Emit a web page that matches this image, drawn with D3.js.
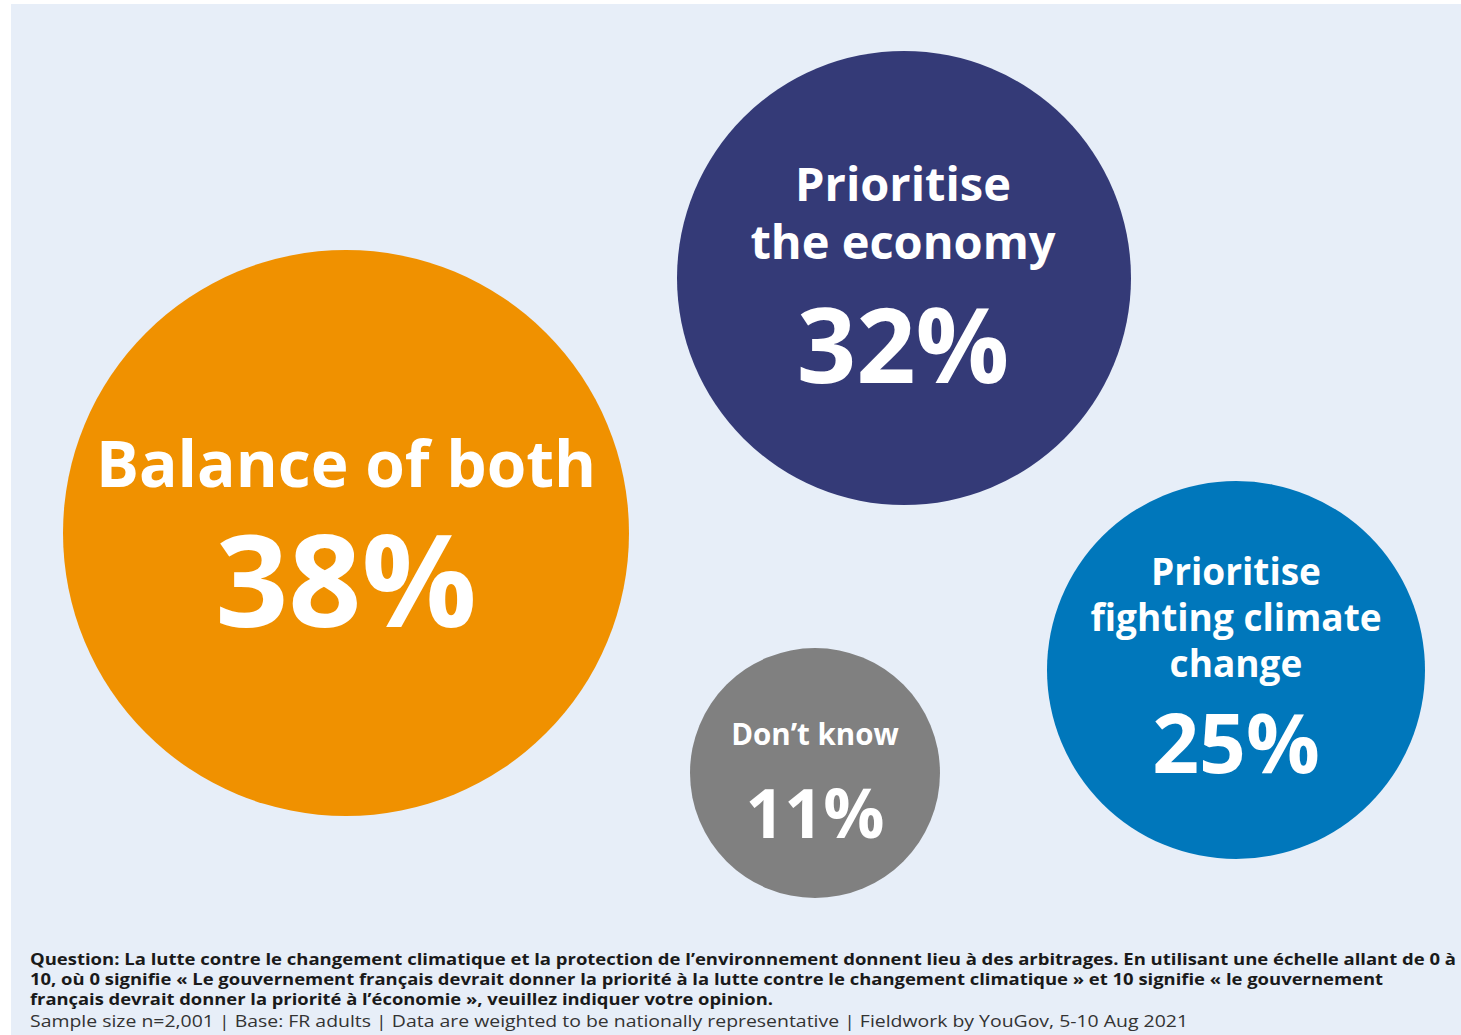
<!DOCTYPE html>
<html lang="en">
<head>
  <meta charset="UTF-8">
  <title>bubbles</title>
  <script src="https://cdn.jsdelivr.net/npm/d3@7"></script>
  <style type="text/css">
    html, body { margin: 0; background: #fff; }
    svg { display: block; }
    text { font-family: "Open Sans", Lato, sans-serif; font-variant-ligatures: none; }
  </style>
</head>
<body>
  <script>
    // data
    var categories = ['Balance of both', 'Prioritise the economy', 'Prioritise fighting climate change', "Don’t know"];
    var labelLines = [['Balance of both'], ['Prioritise', 'the economy'], ['Prioritise', 'fighting climate', 'change'], ['Don’t know']];
    var values = [38, 32, 25, 11];
    var footQuestion = [
      'Question: La lutte contre le changement climatique et la protection de l’environnement donnent lieu à des arbitrages. En utilisant une échelle allant de 0 à',
      '10, où 0 signifie « Le gouvernement français devrait donner la priorité à la lutte contre le changement climatique » et 10 signifie « le gouvernement',
      'français devrait donner la priorité à l’économie », veuillez indiquer votre opinion.'
    ];
    var footSource = 'Sample size n=2,001 | Base: FR adults | Data are weighted to be nationally representative | Fieldwork by YouGov, 5-10 Aug 2021';

    // layout
    var w = 1461, h = 1035;
    var colors = ['#f09100', '#343a77', '#0077bb', '#808080'];
    var centers = [[346, 533], [904, 278], [1236, 670], [815, 773]];
    var r = d3.scaleLinear().domain([11, 25, 32, 38]).range([125, 189, 227, 283]);
    var labelSize = d3.scaleLinear().domain([11, 25, 32, 38]).range([29.5, 37, 47, 64]);
    var labelGap = d3.scaleLinear().domain([11, 25, 32, 38]).range([30, 46, 58, 70]);
    var pctSize = d3.scaleLinear().domain([11, 25, 32, 38]).range([68, 82, 104, 128]);
    var firstBase = [487, 201, 585, 745];
    var pctBase = [627, 383, 773, 838];
    var textX = [346, 903, 1236, 815];
    // target widths of the footnote lines
    var footW = [1426, 1353, 743];

    var svg = d3.select('body').append('svg')
      .attr('width', w)
      .attr('height', h);

    svg.append('rect')
      .attr('x', 11).attr('y', 4)
      .attr('width', w - 11).attr('height', h - 4)
      .attr('fill', '#e7eef8');

    var g = svg.selectAll('g.bubble')
      .data(values)
      .enter().append('g')
      .attr('class', 'bubble');

    g.append('circle')
      .attr('cx', function (d, i) { return centers[i][0]; })
      .attr('cy', function (d, i) { return centers[i][1]; })
      .attr('r', function (d) { return r(d); })
      .attr('fill', function (d, i) { return colors[i]; });

    g.each(function (d, i) {
      var sel = d3.select(this);
      labelLines[i].forEach(function (line, j) {
        sel.append('text')
          .attr('x', textX[i])
          .attr('y', firstBase[i] + j * labelGap(d))
          .attr('text-anchor', 'middle')
          .attr('fill', '#fff')
          .attr('font-weight', 700)
          .attr('font-size', labelSize(d))
          .text(line);
      });
      sel.append('text')
        .attr('x', textX[i])
        .attr('y', pctBase[i])
        .attr('text-anchor', 'middle')
        .attr('fill', '#fff')
        .attr('font-weight', 700)
        .attr('font-size', pctSize(d))
        .text(d + '%');
    });

    var foot = svg.append('g').attr('class', 'foot');
    foot.selectAll('text.q')
      .data(footQuestion)
      .enter().append('text')
      .attr('class', 'q')
      .attr('x', 30)
      .attr('y', function (d, i) { return 965 + i * 20; })
      .attr('font-size', 16)
      .attr('font-weight', 700)
      .attr('fill', '#1a1a1a')
      .attr('textLength', function (d, i) { return footW[i]; })
      .attr('lengthAdjust', 'spacingAndGlyphs')
      .text(function (d) { return d; });

    foot.append('text')
      .attr('x', 30)
      .attr('y', 1027)
      .attr('font-size', 17)
      .attr('fill', '#333')
      .attr('textLength', 1158)
      .attr('lengthAdjust', 'spacingAndGlyphs')
      .text(footSource);
  </script>
</body>
</html>
